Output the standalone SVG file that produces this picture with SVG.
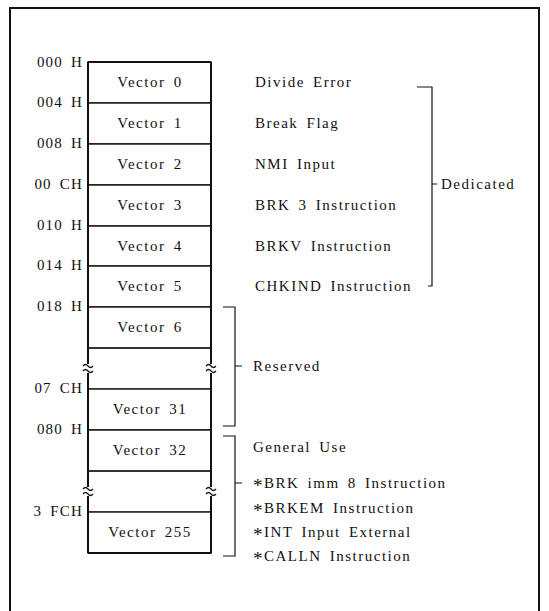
<svg xmlns="http://www.w3.org/2000/svg" width="549" height="611" viewBox="0 0 549 611">
<style>
text{font-family:"Liberation Serif","Times New Roman",Times,"DejaVu Serif",serif;font-size:15px;fill:#111;letter-spacing:1.5px;word-spacing:3px}
.addr{text-anchor:end;letter-spacing:1.2px}
.vec{text-anchor:middle}
.cell{fill:#fff;stroke:#111;stroke-width:1.4}
.side{fill:none;stroke:#111;stroke-width:2}
.brk{fill:none;stroke:#111;stroke-width:1.3}
.ln{fill:none;stroke:#111;stroke-width:1.2}
.ast{font-size:19px}
</style>
<rect x="0" y="0" width="549" height="611" fill="#fff"/>
<path class="side" d="M10,611 V8 H539 V611"/>

<g id="addresses">
<text class="addr" x="83" y="67">000 H</text>
<text class="addr" x="83" y="107">004 H</text>
<text class="addr" x="83" y="148">008 H</text>
<text class="addr" x="83" y="189">00 CH</text>
<text class="addr" x="83" y="230">010 H</text>
<text class="addr" x="83" y="270">014 H</text>
<text class="addr" x="83" y="311">018 H</text>
<text class="addr" x="83" y="393">07 CH</text>
<text class="addr" x="83" y="434">080 H</text>
<text class="addr" x="83" y="516">3 FCH</text>
</g>

<g id="vector0"><rect class="cell" x="88" y="62" width="123" height="41"/><text class="vec" x="150" y="87">Vector 0</text></g>
<g id="vector1"><rect class="cell" x="88" y="103" width="123" height="41"/><text class="vec" x="150" y="128">Vector 1</text></g>
<g id="vector2"><rect class="cell" x="88" y="144" width="123" height="41"/><text class="vec" x="150" y="169">Vector 2</text></g>
<g id="vector3"><rect class="cell" x="88" y="185" width="123" height="41"/><text class="vec" x="150" y="210">Vector 3</text></g>
<g id="vector4"><rect class="cell" x="88" y="226" width="123" height="40"/><text class="vec" x="150" y="251">Vector 4</text></g>
<g id="vector5"><rect class="cell" x="88" y="266" width="123" height="41"/><text class="vec" x="150" y="291">Vector 5</text></g>
<g id="vector6"><rect class="cell" x="88" y="307" width="123" height="41"/><text class="vec" x="150" y="332">Vector 6</text></g>
<g id="gap1"><path class="ln" d="M88,348 H211 M88,389 H211"/></g>
<g id="vector31"><rect class="cell" x="88" y="389" width="123" height="41"/><text class="vec" x="150" y="414">Vector 31</text></g>
<g id="vector32"><rect class="cell" x="88" y="430" width="123" height="41"/><text class="vec" x="150" y="455">Vector 32</text></g>
<g id="gap2"><path class="ln" d="M88,471 H211 M88,512 H211"/></g>
<g id="vector255"><rect class="cell" x="88" y="512" width="123" height="41"/><text class="vec" x="150" y="537">Vector 255</text></g>

<g id="column-sides">
<path class="side" d="M88,62 V553 M211,62 V553 M88,62 H211 M88,553 H211"/>
<rect x="85" y="364" width="6" height="9" fill="#fff"/>
<rect x="208" y="364" width="6" height="9" fill="#fff"/>
<rect x="85" y="487" width="6" height="9" fill="#fff"/>
<rect x="208" y="487" width="6" height="9" fill="#fff"/>
<path class="brk" d="M83,366 q2.5,-3 5,0 t5,0 M83,371 q2.5,-3 5,0 t5,0 M206,366 q2.5,-3 5,0 t5,0 M206,371 q2.5,-3 5,0 t5,0"/>
<path class="brk" d="M83,489 q2.5,-3 5,0 t5,0 M83,494 q2.5,-3 5,0 t5,0 M206,489 q2.5,-3 5,0 t5,0 M206,494 q2.5,-3 5,0 t5,0"/>
</g>

<g id="descriptions">
<text x="255" y="87">Divide  Error</text>
<text x="255" y="128">Break Flag</text>
<text x="255" y="169">NMI Input</text>
<text x="255" y="210">BRK 3 Instruction</text>
<text x="255" y="251">BRKV Instruction</text>
<text x="255" y="291">CHKIND Instruction</text>
</g>

<g id="dedicated"><text x="441" y="189">Dedicated</text></g>
<g id="reserved"><text x="253" y="371">Reserved</text></g>
<g id="general-use">
<text x="253" y="452">General Use</text>
<text x="253" y="488"><tspan class="ast" dy="4">*</tspan><tspan dy="-4">BRK  imm 8  Instruction</tspan></text>
<text x="253" y="513"><tspan class="ast" dy="4">*</tspan><tspan dy="-4">BRKEM  Instruction</tspan></text>
<text x="253" y="537"><tspan class="ast" dy="4">*</tspan><tspan dy="-4">INT  Input  External</tspan></text>
<text x="253" y="561"><tspan class="ast" dy="4">*</tspan><tspan dy="-4">CALLN  Instruction</tspan></text>
</g>

<g id="connectors">
<path class="ln" d="M417,87 H432 V286 H428 M432,184 H437"/>
<path class="ln" d="M223,307 H235 V426 H223 M235,366 H242"/>
<path class="ln" d="M223,436 H235 V556 H223 M235,483 H242"/>
</g>
</svg>
